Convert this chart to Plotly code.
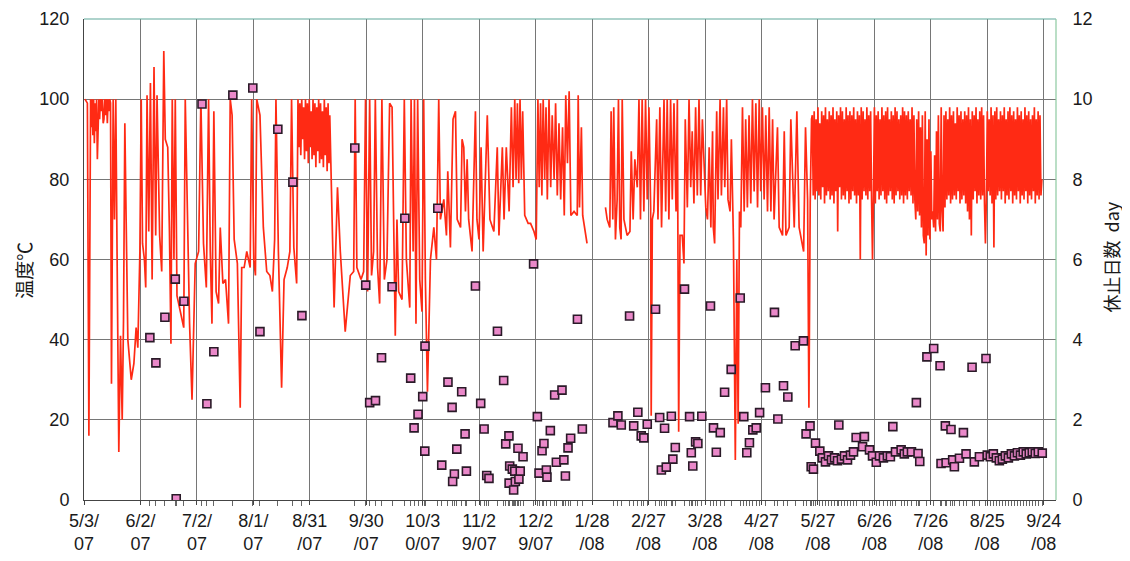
import numpy as np
import pandas as pd
import plotly.graph_objects as go

START = pd.Timestamp("2007-05-03")

# Temperature (left axis): (days since 2007-05-03, deg C); None = no data
temp_points = [
    (0.5,100),(1.8,99),(2.6,16),(3.5,100),(3.9,93),(4.3,100),(4.7,91),(5.1,100),(5.5,89),(5.9,99),
    (6.3,92),(6.7,100),(7.1,85),(7.5,98),(7.9,100),(8.3,95),(8.7,100),(9.2,97),(9.7,100),(10.2,94),
    (10.6,95),(11.0,100),(11.5,96),(12.0,100),(12.4,94),(12.8,100),(13.2,97),(13.7,100),(14.1,99),(14.6,29),
    (15.5,100),(16.2,70),(16.9,100),
    (17.6,60),(18.5,12),(19.4,41),(20.3,20),(21.0,45),(21.7,94),(22.4,70),(23.3,40),(25.1,30),(26.5,34),
    (27.7,43),(28.6,38),(29.7,62),(30.4,100),(31.1,64),(32.1,60),(32.8,53),(33.5,101),(34.4,67),(35.3,104),
    (36.2,55),(37.2,108),(38.1,66),(38.8,101),(40.2,66),(41.3,57),(42.4,112),(43.2,90),(44.5,88),(45.4,67),
    (46.2,39),(46.9,100),(47.8,60),(48.5,100),(49.4,51),(51.2,47),(53.0,43),(53.8,100),(54.9,70),(56.1,44),
    (57.4,25),(59.1,59),(60.9,62),(62.1,100),(63.5,64),(65.0,53),(66.2,100),(67.1,62),(68.0,44),(69.0,97),
    (70.2,52),(71.5,49),(72.4,68),(73.8,54),(75.2,55),(76.8,44),(77.7,100),(78.7,96),(79.8,65),(81.5,59),
    (83.0,23),(83.8,58),(85.1,58),(86.5,62),(88.3,58),(89.1,100),(90.2,60),(91.1,56),(91.8,100),(93.5,96),
    (95.3,68),(97.1,57),(98.8,56),(100.1,52),(101.3,65),(102.0,100),(103.3,62),(105.0,28),(106.3,55),(108.0,58),
    (109.4,62),(110.3,100),(111.5,63),(113.0,54),(113.7,100),
    (114.2,88),(114.7,99),(115.2,86),(115.7,100),(116.2,90),(116.7,98),(117.2,85),(117.7,100),(118.2,87),(118.7,99),
    (119.2,84),(119.7,100),(120.2,88),(120.7,97),(121.2,85),(121.7,100),(122.2,86),(122.7,99),(123.2,83),(123.7,98),
    (124.2,87),(124.7,100),(125.2,84),(125.7,99),(126.2,85),(126.7,97),(127.2,83),(127.7,100),(128.2,86),(128.7,98),
    (129.2,82),(129.7,99),(130.2,84),(130.6,96),
    (132.9,48),(134.7,78),(136.2,62),(138.8,42),(141.5,56),(143.3,57),(144.1,100),(145.0,58),(147.2,55),(148.6,57),
    (149.6,100),(150.7,52),(151.8,100),(152.8,56),(153.9,62),(154.8,100),(156.0,58),(157.1,49),(158.3,100),(159.6,55),
    (161.0,60),(162.4,99),(163.7,98),(165.4,41),(166.3,70),(167.2,52),(169.0,50),(170.2,100),(171.3,60),(173.1,48),
    (173.8,100),(174.9,62),(175.6,100),(176.4,44),(177.3,100),(178.4,55),(179.6,47),(180.5,100),(181.4,55),(182.5,27),
    (184.1,60),(185.9,68),(187.3,60),(188.5,100),(189.4,70),(191.2,75),(192.6,66),(193.3,82),(194.7,63),(196.1,95),
    (197.4,97),(198.3,70),(200.1,68),(200.9,90),(201.8,88),(202.7,72),(203.6,85),(204.4,70),(206.2,62),(208.0,97),
    (208.8,70),(209.9,65),(211.0,88),(212.1,62),(214.3,96),(215.7,70),(217.8,67),(219.6,88),(220.5,66),(222.3,88),
    (223.2,70),(224.4,88),(225.9,72),(227.1,98),(228.0,78),(228.9,100),(229.6,80),(230.3,99),(231.0,79),(231.7,100),
    (232.4,80),(233.1,97),(234.2,71),(236.0,69),(237.3,69),(239.1,67),(240.3,65),(241.2,100),(241.9,78),(242.6,99),
    (243.3,76),(244.0,100),(244.8,80),(245.5,98),(246.2,75),(247.1,100),(248.0,78),(248.8,96),(249.8,80),(250.6,99),
    (251.5,76),(252.4,94),(253.3,75),(254.3,93),(255.2,71),(256.0,101),(256.9,84),(257.8,102),(258.7,71),(260.4,72),
    (262.1,71),(262.6,101),(263.3,73),(264.3,93),(265.0,71),(267.3,64),
    (268.0,None),
    (277.1,73),(278.0,70),(279.4,68),(280.1,97),(281.0,70),(281.5,98),(282.4,65),(283.3,75),(284.0,100),(284.7,68),
    (285.4,65),(286.0,100),(286.9,70),(288.6,66),(290.1,67),(290.8,87),(291.8,70),(292.7,85),(294.0,78),(294.9,100),
    (295.7,70),(296.6,100),(297.5,72),(298.4,100),(299.3,75),(300.2,98),(301.1,73),(301.4,21),(302.0,70),(302.8,72),
    (304.3,95),(305.0,70),(306.0,98),(306.9,68),(308.2,100),(309.1,72),(309.9,100),(310.8,70),(311.7,100),(312.6,75),
    (313.5,99),(314.6,72),(315.3,100),(316.0,17),(316.7,66),(317.9,66),(318.8,59),(319.5,95),(320.6,73),(321.5,100),
    (322.4,78),(323.2,92),(324.1,74),(325.0,98),(325.9,76),(326.8,100),(327.7,76),(328.6,95),(330.4,73),(331.3,70),
    (332.2,88),(333.1,68),(334.0,92),(334.4,68),(335.1,64),(336.2,97),(336.9,75),(338.0,100),(338.7,76),(339.8,98),
    (340.5,78),(341.5,100),(342.2,75),(343.3,72),(344.0,90),(344.6,72),(345.1,65),(346.1,10),(346.9,60),(347.6,19),
    (348.3,72),(349.0,68),(349.9,98),(350.8,72),(351.6,95),(352.5,73),(353.4,96),(354.3,74),(355.2,100),(356.1,77),
    (357.0,99),(357.9,73),(358.8,100),(359.6,77),(360.5,98),(361.4,75),(362.3,96),(363.2,72),(364.1,98),(365.0,72),
    (365.9,95),(366.7,70),(368.5,93),(369.4,68),(371.2,66),(372.1,92),(373.0,66),(374.7,68),(375.6,95),(377.4,68),
    (378.8,97),(380.0,68),(381.3,65),(382.4,62),(383.4,93),(384.5,75),(385.2,23),(385.9,74),(386.6,95),
]

# Dense section from day 387, sampled every half day
band_start_day = 387.0
band_step_day = 0.5
band_vals = [
    96,76,97,75,95,77,98,76,94,75,97,78,96,74,98,76,95,77,97,75,
    96,76,98,74,95,77,97,67,96,78,98,75,97,76,95,75,98,77,96,74,
    97,75,96,77,98,76,95,74,97,76,96,60,98,75,97,77,95,76,98,75,
    96,77,97,75,60,76,98,74,96,77,97,75,95,76,98,77,96,75,97,74,
    98,76,95,77,97,75,96,74,98,76,97,77,95,75,96,76,98,74,97,76,
    96,75,97,77,95,76,98,74,96,75,70,95,72,97,71,93,68,96,66,64,
    97,61,90,66,95,65,87,70,72,68,86,67,92,70,96,69,67,98,72,67,
    96,73,97,75,95,76,98,74,96,75,97,76,94,75,98,77,96,74,97,75,
    95,76,97,74,96,72,98,70,95,66,97,75,96,77,98,74,95,76,97,75,
    98,76,96,74,64,75,97,77,95,76,98,74,96,63,97,75,98,76,95,77,
    97,75,96,77,98,74,95,76,97,75,98,77,96,74,97,76,95,75,98,77,
    96,74,97,76,95,75,98,77,96,74,97,76,95,75,96,77,98,74,95,76,
    97,75,96,76,80,
]

# Rest days (right axis): (days since 2007-05-03, days)
rest_points = [
    (35.0,4.05),(38.2,3.42),(43.0,4.56),(48.5,5.51),(49.0,0.03),(53.1,4.96),(62.7,9.88),(65.3,2.4),(69.0,3.7),(79.1,10.1),
    (89.7,10.28),(93.5,4.2),(103.0,9.25),(111.0,7.93),(115.8,4.6),(143.9,8.78),(149.7,5.36),(151.8,2.43),(154.9,2.48),(158.1,3.55),
    (163.7,5.32),(170.5,7.03),(173.6,3.04),(175.4,1.80),(177.5,2.14),(180.0,2.58),(181.2,3.84),(181.1,1.22),(188.0,7.28),(190.1,0.87),
    (193.4,2.94),(195.6,2.31),(196.8,0.65),(195.9,0.46),(198.1,1.27),(200.7,2.70),(202.5,1.65),(203.2,0.72),(208.0,5.34),(210.8,2.41),
    (212.6,1.77),(214.0,0.61),(215.2,0.54),(219.7,4.21),(223.0,2.98),(224.1,1.4),(225.8,1.6),(226.2,0.85),(227.6,0.77),(225.9,0.42),
    (228.9,0.72),(229.2,0.46),(228.3,0.25),(231.1,0.52),(231.8,0.72),(230.6,1.29),(233.3,1.08),(238.9,5.89),(240.9,2.08),(241.8,0.67),
    (243.4,1.23),(244.4,1.41),(245.7,0.75),(246.0,0.57),(247.8,1.73),(250.1,2.62),(251.0,0.94),(254.0,2.74),(255.0,1.0),(255.8,0.6),
    (257.2,1.30),(258.6,1.54),(262.2,4.51),(264.8,1.77),(281.1,1.93),(283.7,2.1),(285.5,1.87),(289.9,4.59),(292.1,1.85),(294.3,2.19),
    (296.1,1.6),(297.5,1.55),(299.3,1.89),(303.7,4.76),(305.9,2.06),(306.8,0.75),(308.5,1.79),(309.4,0.82),(312.1,2.09),(312.9,1.02),
    (314.2,1.31),(319.1,5.26),(321.8,2.08),(322.7,1.18),(323.5,0.85),(325.0,1.45),(326.2,1.41),(328.3,2.09),(332.9,4.84),(334.5,1.8),
    (336.0,1.19),(338.1,1.68),(340.4,2.69),(343.9,3.26),(348.7,5.04),(350.6,2.08),(352.2,1.18),(353.6,1.43),(355.4,1.75),(357.2,1.8),
    (359.0,2.18),(362.1,2.8),(366.9,4.68),(368.7,2.02),(371.7,2.85),(374.0,2.57),(377.9,3.85),(382.3,3.97),(383.7,1.65),(385.8,1.85),
    (386.4,0.83),(387.6,0.77),(388.7,1.42),(391.0,1.22),(392.4,1.05),(394.0,0.95),(395.6,1.1),(397.2,1.0),(398.8,1.05),(400.4,0.98),
    (401.1,1.87),(402.5,1.02),(404.1,1.1),(405.7,1.0),(407.3,1.12),(408.9,1.2),(410.3,1.56),(413.7,1.33),(414.7,1.58),(417.4,1.25),
    (419.0,1.1),(421.0,0.94),(422.7,1.1),(424.8,1.05),(426.9,1.1),(428.5,1.08),(429.8,1.83),(431.2,1.2),(434.2,1.25),(435.9,1.15),
    (437.5,1.2),(439.7,1.2),(442.3,2.43),(443.2,1.16),(444.1,0.96),(447.9,3.57),(451.5,3.78),(454.9,3.35),(455.4,0.91),(457.7,1.85),
    (458.1,0.93),(460.7,1.76),(461.6,1.0),(462.5,0.83),(465.2,1.04),(467.3,1.68),(468.7,1.15),(471.9,3.31),(473.1,0.95),(475.8,1.08),
    (479.3,3.53),(480.0,1.12),(481.6,1.08),(483.2,1.15),(484.8,1.05),(486.4,0.98),(488.0,1.02),(489.6,1.1),(491.2,1.05),(492.8,1.15),
    (494.4,1.1),(496.0,1.18),(497.6,1.12),(499.1,1.2),(500.7,1.15),(502.3,1.18),(503.9,1.2),(505.5,1.16),(507.1,1.2),(509.2,1.17),
]

tick_days = [0, 30, 60, 90, 120, 150, 180, 210, 240, 270, 300, 330, 360, 390, 420, 450, 480, 510]
tick_labels = ["5/3/<br>07", "6/2/<br>07", "7/2/<br>07", "8/1/<br>07", "8/31<br>/07", "9/30<br>/07",
               "10/3<br>0/07", "11/2<br>9/07", "12/2<br>9/07", "1/28<br>/08", "2/27<br>/08", "3/28<br>/08",
               "4/27<br>/08", "5/27<br>/08", "6/26<br>/08", "7/26<br>/08", "8/25<br>/08", "9/24<br>/08"]


def to_date(days):
    return START + pd.to_timedelta(np.asarray(days, dtype=float), unit="D")


temp_day = [d for d, _ in temp_points] + list(band_start_day + band_step_day * np.arange(len(band_vals)))
temp_val = [v for _, v in temp_points] + band_vals
rest_day = [d for d, _ in rest_points]
rest_val = [v for _, v in rest_points]

temp_x = to_date(temp_day)
rest_x = to_date(rest_day)
tick_x = to_date(tick_days)

FONT = "Liberation Sans, Arial, sans-serif"
CJK = "Noto Sans CJK JP, Liberation Sans, sans-serif"
GRID = "#767676"

fig = go.Figure()
fig.add_trace(go.Scatter(x=temp_x, y=temp_val, mode="lines", yaxis="y",
                         line=dict(color="#ff2a14", width=1.7), connectgaps=False,
                         showlegend=False, name="温度"))
fig.add_trace(go.Scatter(x=rest_x, y=rest_val, mode="markers", yaxis="y2",
                         marker=dict(symbol="square", size=8, color="#ea88c9",
                                     line=dict(color="#2a1a28", width=1.6)),
                         showlegend=False, name="休止日数"))

# The page body has an 8px margin, so the figure is 8px smaller in each direction
fig.update_layout(
    width=1122, height=553,
    margin=dict(l=76, r=74, t=11, b=61, autoexpand=False),
    paper_bgcolor="white", plot_bgcolor="white",
    font=dict(family=FONT, size=18, color="#1a1a1a"),
    xaxis=dict(
        type="date", automargin=False,
        range=[START, START + pd.Timedelta(days=516.5)],
        tickmode="array", tickvals=tick_x, ticktext=tick_labels,
        tickfont=dict(size=18),
        showgrid=True, gridcolor=GRID, gridwidth=1,
        showline=True, linecolor="#444", linewidth=1,
        ticks="outside", ticklen=4, tickcolor="#444",
        minor=dict(tickmode="array", tickvals=rest_x, ticks="outside",
                   ticklen=5, tickcolor="#666", showgrid=False),
        zeroline=False,
    ),
    yaxis=dict(
        automargin=False,
        range=[0, 120], tickmode="linear", tick0=0, dtick=20,
        showgrid=True, gridcolor=GRID, gridwidth=1,
        showline=True, linecolor="#444", linewidth=1,
        ticks="outside", ticklen=10, tickcolor="rgba(0,0,0,0)",
        tickfont=dict(size=18), zeroline=False,
    ),
    yaxis2=dict(
        automargin=False,
        range=[0, 12], tickmode="linear", tick0=0, dtick=2,
        overlaying="y", side="right", showgrid=False,
        showline=False, ticks="outside", ticklen=12, tickcolor="rgba(0,0,0,0)",
        tickfont=dict(size=18), zeroline=False,
    ),
    annotations=[
        dict(text="温度℃", xref="paper", yref="paper", x=-0.063, y=0.478,
             xanchor="center", yanchor="middle", textangle=-90, showarrow=False,
             font=dict(family=CJK, size=19, color="#1a1a1a")),
        dict(text="休止日数  day", xref="paper", yref="paper", x=1.057, y=0.505,
             xanchor="center", yanchor="middle", textangle=-90, showarrow=False,
             font=dict(family=CJK, size=18, color="#1a1a1a")),
    ],
    shapes=[
        dict(type="line", xref="paper", yref="paper", x0=0, x1=1, y0=1, y1=1,
             line=dict(color="#5fa89a", width=1.2)),
        dict(type="line", xref="paper", yref="paper", x0=1, x1=1, y0=0, y1=1,
             line=dict(color="#8cc9a0", width=1.2)),
    ],
)

fig.write_html("out.html")
